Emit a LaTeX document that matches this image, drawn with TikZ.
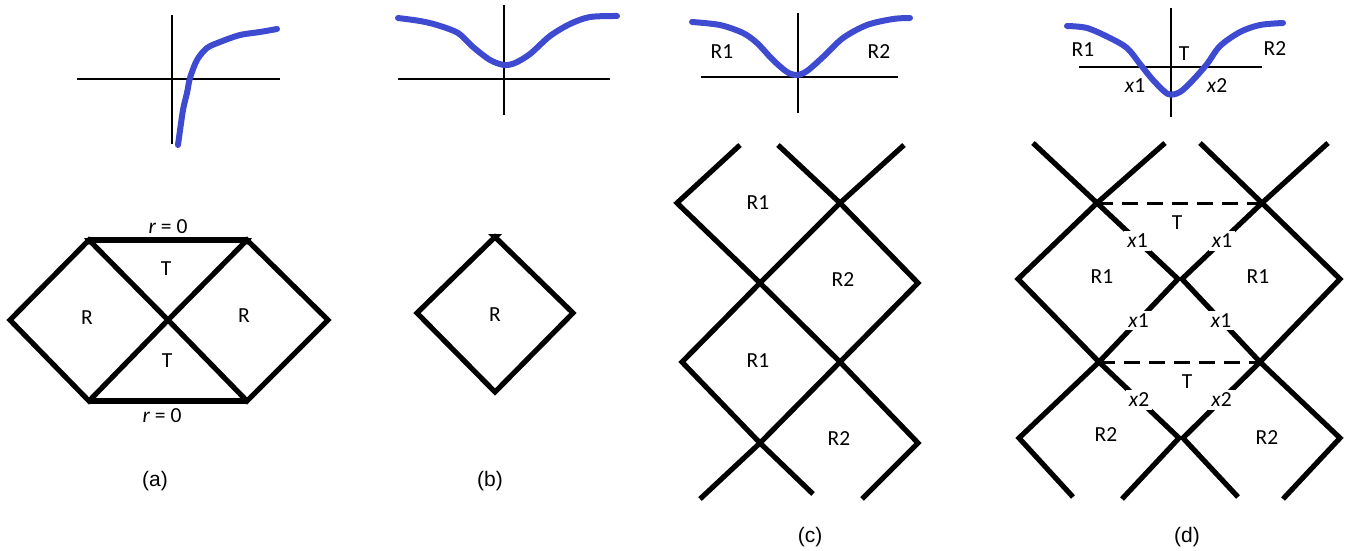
\documentclass[tikz,border=0pt]{standalone}
\usepackage{fontspec}
\setmainfont{Carlito}
\newfontfamily\panelfont{Liberation Sans}
\definecolor{curveblue}{RGB}{62,74,208}

\begin{document}
\begin{tikzpicture}[
  x=1pt, y=-1pt,
  axis/.style={line width=2.4pt},
  curve/.style={curveblue, line width=6pt, line cap=round, line join=round},
  wall/.style={line width=5.2pt},
  horizon/.style={line width=3pt, dash pattern=on 16pt off 9pt},
  region/.style={font=\fontsize{21.5}{24}\selectfont, inner sep=1pt},
  cross/.style={region, fill=white, inner sep=3pt},
  caption/.style={font=\panelfont\fontsize{21}{24}\selectfont}
]
\useasboundingbox (0,0) rectangle (1346,551);

% (a) one zero of the metric function
\coordinate (a-n) at (172,15);  \coordinate (a-s) at (172,144);
\coordinate (a-w) at (77,79);   \coordinate (a-e) at (280,79);
\draw[axis] (a-n) -- (a-s);
\draw[axis] (a-w) -- (a-e);
\draw[curve] plot[smooth] coordinates {(178,145) (183,110) (187,93) (190,78) (197,60) (207,48) (220,42) (240,35) (260,32) (277,29)};

\coordinate (a-l) at (10,320);   \coordinate (a-c) at (168,320);  \coordinate (a-r) at (328,320);
\coordinate (a-tl) at (89,240);  \coordinate (a-tr) at (247,240);
\coordinate (a-bl) at (89,401);  \coordinate (a-br) at (247,401);
\draw[wall] (a-l) -- (a-tl) -- (a-c) -- (a-bl) -- cycle;
\draw[wall] (a-c) -- (a-tr) -- (a-r) -- (a-br) -- cycle;
\draw[wall] (a-tl) -- (a-tr);
\draw[wall] (a-bl) -- (a-br);
\fill (84,238) -- (94,238) -- (89,245) -- cycle;
\fill (242,238) -- (252,238) -- (247,245) -- cycle;
\node[region] (a-rt) at (168,227) {\textit{r} = 0};
\node[region] (a-rb) at (162,416) {\textit{r} = 0};
\node[region] (a-t1) at (166,269) {T};
\node[region] (a-t2) at (167,361) {T};
\node[region] (a-r1) at (87,318) {R};
\node[region] (a-r2) at (244,316) {R};
\node[caption] (cap-a) at (155,481) {(a)};

% (b) no zero
\coordinate (b-n) at (504,5);   \coordinate (b-s) at (504,115);
\coordinate (b-w) at (398,79);  \coordinate (b-e) at (610,79);
\draw[axis] (b-n) -- (b-s);
\draw[axis] (b-w) -- (b-e);
\draw[curve] plot[smooth] coordinates {(398,18) (420,21) (437,25) (458,33) (473,47) (490,60) (504,65) (515,63) (530,54) (550,36) (570,24) (590,17) (617,16)};

\coordinate (b-t) at (495,237);  \coordinate (b-l) at (417,313);
\coordinate (b-r) at (573,313);  \coordinate (b-b) at (495,392);
\draw[wall] (b-t) -- (b-r) -- (b-b) -- (b-l) -- cycle;
\fill (488,234) -- (502,234) -- (495,241) -- cycle;
\node[region] (b-rr) at (495,315) {R};
\node[caption] (cap-b) at (490,481) {(b)};

% (c) double zero
\coordinate (c-n) at (798,13);  \coordinate (c-s) at (798,113);
\coordinate (c-w) at (701,77);  \coordinate (c-e) at (898,77);
\draw[axis] (c-n) -- (c-s);
\draw[axis] (c-w) -- (c-e);
\draw[curve] plot[smooth] coordinates {(692,22) (720,25) (743,33) (757,43) (773,60) (787,72) (797,75) (807,71) (823,57) (843,38) (867,25) (893,19) (910,18)};
\node[region] (c-p1) at (722,52) {R1};
\node[region] (c-p2) at (879,52) {R2};

\coordinate (c-ta) at (740,145);  \coordinate (c-tb) at (778,145);  \coordinate (c-tc) at (904,145);
\coordinate (c-l1) at (677,203);  \coordinate (c-m1) at (840,203);
\coordinate (c-x1) at (760,283);  \coordinate (c-r1) at (918,283);
\coordinate (c-l2) at (682,362);  \coordinate (c-m2) at (840,362);
\coordinate (c-x2) at (760,443);  \coordinate (c-r2) at (918,443);
\coordinate (c-ba) at (700,499);  \coordinate (c-bb) at (813,494);  \coordinate (c-bc) at (862,499);
\draw[wall] (c-ta) -- (c-l1) -- (c-x1) -- (c-m2) -- (c-r2) -- (c-bc);
\draw[wall] (c-tb) -- (c-m1) -- (c-r1) -- (c-m2) -- (c-x2) -- (c-ba);
\draw[wall] (c-tc) -- (c-m1) -- (c-x1) -- (c-l2) -- (c-x2) -- (c-bb);
\node[region] (c-q1) at (758,203) {R1};
\node[region] (c-q2) at (843,280) {R2};
\node[region] (c-q3) at (758,361) {R1};
\node[region] (c-q4) at (839,439) {R2};
\node[caption] (cap-c) at (810,537) {(c)};

% (d) two zeros
\coordinate (d-n) at (1171,8);   \coordinate (d-s) at (1171,117);
\coordinate (d-w) at (1079,67);  \coordinate (d-e) at (1262,67);
\draw[axis] (d-n) -- (d-s);
\draw[axis] (d-w) -- (d-e);
\draw[curve] plot[smooth] coordinates {(1067,26) (1087,28) (1110,38) (1127,48) (1140,64) (1153,80) (1168,94) (1180,92) (1193,80) (1207,64) (1220,46) (1240,32) (1260,25) (1283,23)};
\node[region] (d-p1) at (1083,50) {R1};
\node[region] (d-pt) at (1184,54) {T};
\node[region] (d-p2) at (1275,49) {R2};
\node[region] (d-px1) at (1135,86) {\textit{x}1};
\node[region] (d-px2) at (1217,86) {\textit{x}2};

\coordinate (d-ta) at (1033,143);  \coordinate (d-tb) at (1165,143);
\coordinate (d-tc) at (1200,143);  \coordinate (d-td) at (1328,143);
\coordinate (d-p1) at (1097,203);  \coordinate (d-q1) at (1262,203);
\coordinate (d-l1) at (1018,279);  \coordinate (d-m1) at (1178,279);
\coordinate (d-n1) at (1182,279);  \coordinate (d-r1) at (1340,279);
\coordinate (d-p2) at (1099,362);  \coordinate (d-q2) at (1260,362);
\coordinate (d-l2) at (1019,438);  \coordinate (d-m2) at (1179,438);
\coordinate (d-n2) at (1183,438);  \coordinate (d-r2) at (1340,438);
\coordinate (d-ba) at (1073,497);  \coordinate (d-bb) at (1122,499);
\coordinate (d-bc) at (1238,497);  \coordinate (d-bd) at (1283,499);
\draw[wall] (d-ta) -- (d-p1) -- (d-m1) -- (d-p2) -- (d-l2) -- (d-ba);
\draw[wall] (d-tb) -- (d-p1) -- (d-l1) -- (d-p2) -- (d-m2) -- (d-bb);
\draw[wall] (d-tc) -- (d-q1) -- (d-r1) -- (d-q2) -- (d-n2) -- (d-bc);
\draw[wall] (d-td) -- (d-q1) -- (d-n1) -- (d-q2) -- (d-r2) -- (d-bd);
\draw[horizon] (d-p1) -- (d-q1);
\draw[horizon] (d-p2) -- (d-q2);
\fill (d-p2) circle (3.5pt);
\path (d-p1) -- (d-m1) node[cross, pos=0.5] (d-xa) {\textit{x}1};
\path (d-q1) -- (d-n1) node[cross, pos=0.5] (d-xb) {\textit{x}1};
\path (d-m1) -- (d-p2) node[cross, pos=0.5] (d-xc) {\textit{x}1};
\path (d-n1) -- (d-q2) node[cross, pos=0.5] (d-xd) {\textit{x}1};
\path (d-p2) -- (d-m2) node[cross, pos=0.5] (d-xe) {\textit{x}2};
\path (d-q2) -- (d-n2) node[cross, pos=0.5] (d-xf) {\textit{x}2};
\node[region] (d-t1) at (1177,223) {T};
\node[region] (d-t2) at (1187,382) {T};
\node[region] (d-r1l) at (1102,277) {R1};
\node[region] (d-r1r) at (1258,277) {R1};
\node[region] (d-r2l) at (1106,435) {R2};
\node[region] (d-r2r) at (1267,438) {R2};
\node[caption] (cap-d) at (1187,537) {(d)};
\end{tikzpicture}
\end{document}
